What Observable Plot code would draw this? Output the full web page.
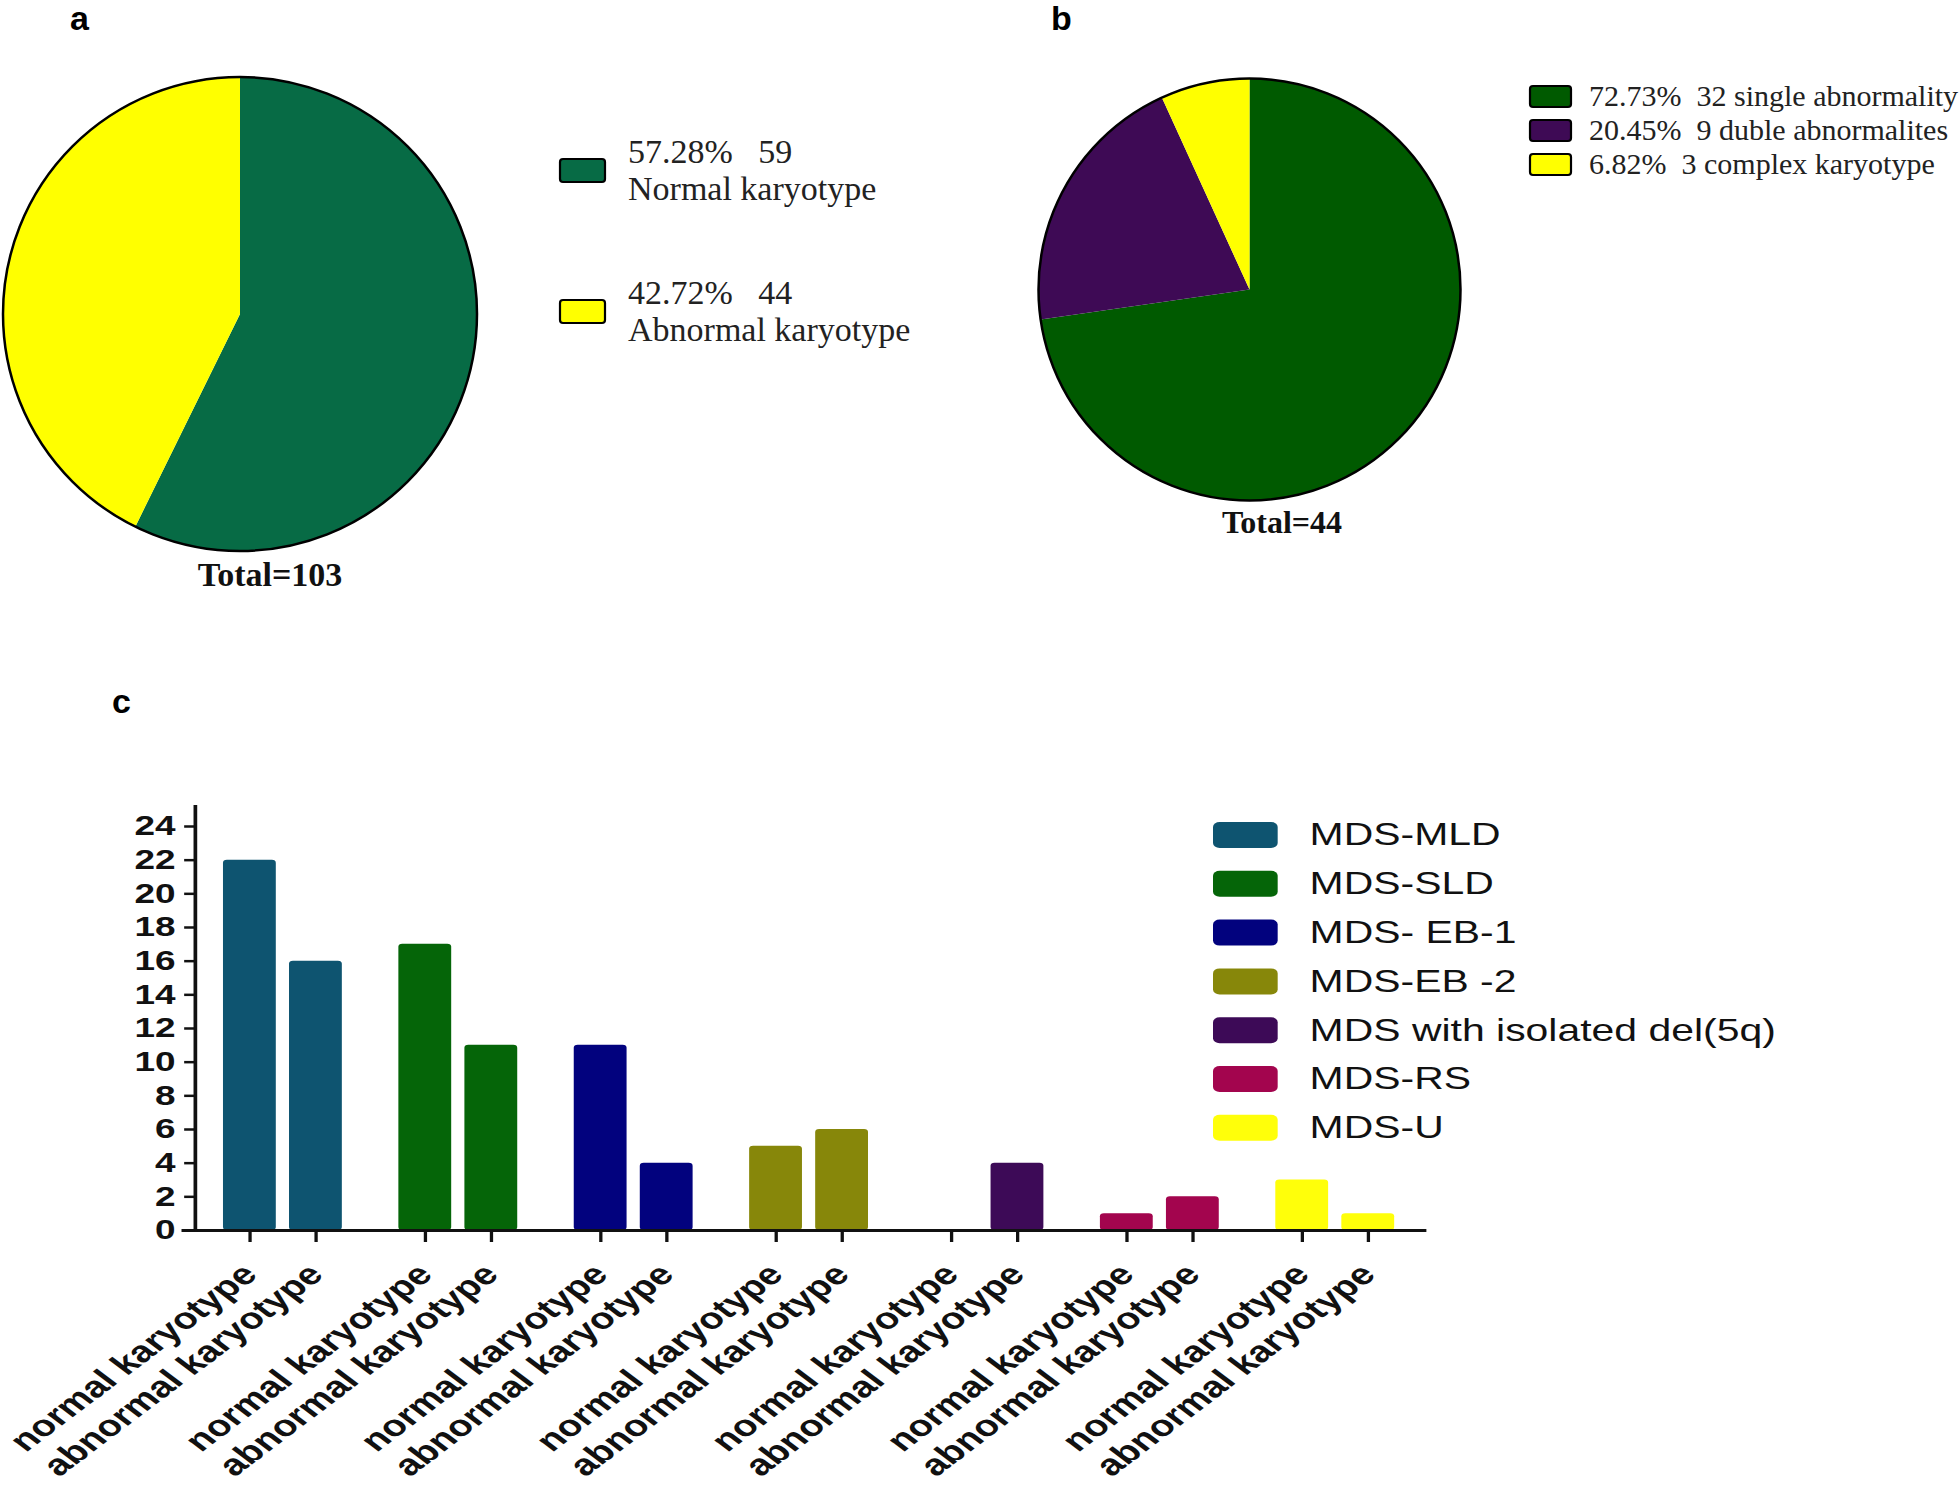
<!DOCTYPE html>
<html>
<head>
<meta charset="utf-8">
<script src="https://cdn.jsdelivr.net/npm/d3@7"></script>
<script src="https://cdn.jsdelivr.net/npm/@observablehq/plot@0.6"></script>
<style>
  body { margin: 0; background: #fff; }
  #root { position: relative; width: 1960px; height: 1491px; overflow: hidden; background: #fff; }
  .abs { position: absolute; }
  .letter { position: absolute; font-family: "Liberation Sans", Arial, sans-serif; font-weight: bold; font-size: 34px; line-height: 34px; color: #000; }
</style>
</head>
<body>
<div id="root"></div>
<script>
// ---------- DATA ----------
const pieALabels = ["Normal karyotype", "Abnormal karyotype"];
const pieAValues = [59, 44];
const pieAPercents = ["57.28%", "42.72%"];
const pieATotal = 103;

const pieBLabels = ["single abnormality", "duble abnormalites", "complex karyotype"];
const pieBValues = [32, 9, 3];
const pieBPercents = ["72.73%", "20.45%", "6.82%"];
const pieBTotal = 44;

const subtypes = ["MDS-MLD", "MDS-SLD", "MDS- EB-1", "MDS-EB -2", "MDS with isolated del(5q)", "MDS-RS", "MDS-U"];
const karyotypes = ["normal karyotype", "abnormal karyotype"];
const normalCounts = [22, 17, 11, 5, 0, 1, 3];
const abnormalCounts = [16, 11, 4, 6, 4, 2, 1];
const yTicks = [0, 2, 4, 6, 8, 10, 12, 14, 16, 18, 20, 22, 24];

// ---------- STYLES ----------
const pieAColors = ["#076B45", "#FFFF00"];
const pieBColors = ["#005A00", "#3E0A55", "#FFFF00"];
const subtypeColors = ["#0E5470", "#056508", "#02027E", "#87870A", "#3D0A57", "#A3054E", "#FFFF0A"];

const root = document.getElementById("root");

function place(node, left, top) {
  const d = document.createElement("div");
  d.className = "abs";
  d.style.left = left + "px";
  d.style.top = top + "px";
  d.appendChild(node);
  root.appendChild(d);
  return d;
}
function letter(t, left, baseline) {
  const d = document.createElement("div");
  d.className = "letter";
  d.textContent = t;
  d.style.left = left + "px";
  d.style.top = (baseline - 0.8465 * 34) + "px";
  root.appendChild(d);
}

// pie drawn as a render mark inside a Plot
function pieMark(values, colors, cx, cy, r) {
  return () => {
    const g = d3.create("svg:g").attr("transform", `translate(${cx},${cy})`);
    const arcs = d3.pie().sort(null).value(d => d)(values);
    const arc = d3.arc().innerRadius(0).outerRadius(r);
    g.selectAll("path").data(arcs).join("path").attr("d", arc).attr("fill", (d, i) => colors[i]);
    g.append("circle").attr("r", r).attr("fill", "none").attr("stroke", "#000").attr("stroke-width", 2.5);
    return g.node();
  };
}
function totalMark(text, cx, baseline, size) {
  return () => {
    const t = d3.create("svg:text")
      .attr("x", cx).attr("y", baseline)
      .attr("text-anchor", "middle")
      .attr("font-family", "'Liberation Serif', 'Times New Roman', serif")
      .attr("font-weight", "bold").attr("font-size", size).attr("fill", "#111")
      .text(text);
    return t.node();
  };
}

// ---------- PANEL A ----------
function legendA() {
  return () => {
    const g = d3.create("svg:g")
      .attr("font-family", "'Liberation Serif', 'Times New Roman', serif")
      .attr("text-anchor", "start")
      .attr("font-size", 34).attr("fill", "#222");
    pieAValues.forEach((v, i) => {
      const off = i * 141;
      g.append("rect").attr("x", 560).attr("y", 159 + off).attr("width", 45).attr("height", 23).attr("rx", 3)
        .attr("fill", pieAColors[i]).attr("stroke", "#000").attr("stroke-width", 2.2);
      g.append("text").attr("x", 628).attr("y", 163 + off).attr("text-anchor", "start").text(pieAPercents[i] + "\u00A0\u00A0 " + v);
      g.append("text").attr("x", 628).attr("y", 200 + off).attr("text-anchor", "start").text(pieALabels[i]);
    });
    return g.node();
  };
}
const plotA = Plot.plot({
  width: 980, height: 620, margin: 0,
  style: { background: "transparent", overflow: "visible" },
  marks: [
    pieMark(pieAValues, pieAColors, 240, 314, 237),
    totalMark("Total=" + pieATotal, 270, 586, 34),
    legendA()
  ]
});
place(plotA, 0, 0);

// ---------- PANEL B ----------
function legendB() {
  return () => {
    const g = d3.create("svg:g")
      .attr("font-family", "'Liberation Serif', 'Times New Roman', serif")
      .attr("text-anchor", "start")
      .attr("font-size", 30).attr("fill", "#222");
    pieBValues.forEach((v, i) => {
      const off = i * 34;
      g.append("rect").attr("x", 550).attr("y", 86 + off).attr("width", 41).attr("height", 21).attr("rx", 3)
        .attr("fill", pieBColors[i]).attr("stroke", "#000").attr("stroke-width", 2.2);
      g.append("text").attr("x", 609).attr("y", 106 + off).attr("text-anchor", "start")
        .text(pieBPercents[i] + "\u00A0 " + v + " " + pieBLabels[i]);
    });
    return g.node();
  };
}
const plotB = Plot.plot({
  width: 980, height: 560, margin: 0,
  style: { background: "transparent", overflow: "visible" },
  marks: [
    pieMark(pieBValues, pieBColors, 269.5, 289.5, 211),
    totalMark("Total=" + pieBTotal, 302, 533, 32),
    legendB()
  ]
});
place(plotB, 980, 0);

// ---------- PANEL C ----------
const barData = subtypes.flatMap((s, i) => [
  { subtype: s, karyotype: karyotypes[0], count: normalCounts[i] },
  { subtype: s, karyotype: karyotypes[1], count: abnormalCounts[i] }
]);

const stretch = 1.32;
const innerW = 1960 / stretch;

const plotC = Plot.plot({
  width: innerW, height: 700,
  marginLeft: 147.5, marginRight: innerW - 1077.6, marginTop: 15.8, marginBottom: 260,
  style: { background: "transparent", overflow: "visible", fontFamily: "'Liberation Sans', Arial, sans-serif", color: "#111" },
  fx: { domain: subtypes, padding: 0, round: false, axis: null, label: null },
  x: { domain: karyotypes, paddingInner: 0.2, paddingOuter: 0.428, round: false, label: null },
  y: { domain: [0, 25.2], label: null },
  color: { domain: subtypes, range: subtypeColors },
  marks: [
    Plot.barY(barData, { fx: "subtype", x: "karyotype", y: "count", fill: "subtype", rx: 3 }),
    Plot.ruleY([0], { stroke: "#111", strokeWidth: 3, insetLeft: -10, insetRight: -3 }),
    Plot.frame({ anchor: "left", facetAnchor: "left", stroke: "#111", strokeWidth: 2.8 }),
    Plot.axisY(yTicks, { tickSize: 8, tickPadding: 7, strokeWidth: 2.5, fontSize: 28, fontWeight: "bold", label: null, fill: "#111" }),
    Plot.axisX({ tickSize: 12, tickPadding: 27, tickRotate: -45, strokeWidth: 2.5, fontSize: 30, fontWeight: "bold", label: null, fill: "#111" })
  ]
});
const cWrap = place(plotC, 0, 790);
cWrap.style.transform = `scaleX(${stretch})`;
cWrap.style.transformOrigin = "0 0";

// legend for panel C
const legendC = Plot.plot({
  width: 420, height: 370, margin: 0,
  style: { background: "transparent", overflow: "visible", fontFamily: "'Liberation Sans', Arial, sans-serif", color: "#111" },
  x: { domain: [0, 1], range: [0, 49], axis: null },
  y: { domain: subtypes, range: [12.6, 354.2], paddingInner: 0.467, paddingOuter: 0.2335, round: false, axis: null },
  color: { domain: subtypes, range: subtypeColors },
  marks: [
    Plot.barX(subtypes, { x1: 0, x2: 1, y: d => d, fill: d => d, rx: 5 }),
    Plot.text(subtypes, { x: 1, y: d => d, text: d => d, dx: 23.7, textAnchor: "start", fontSize: 31, fill: "#111" })
  ]
});
const lWrap = place(legendC, 1213, 798);
lWrap.style.transform = `scaleX(${stretch})`;
lWrap.style.transformOrigin = "0 0";

// panel letters
letter("a", 70, 30);
letter("b", 1051, 30);
letter("c", 112, 713);
</script>
</body>
</html>
